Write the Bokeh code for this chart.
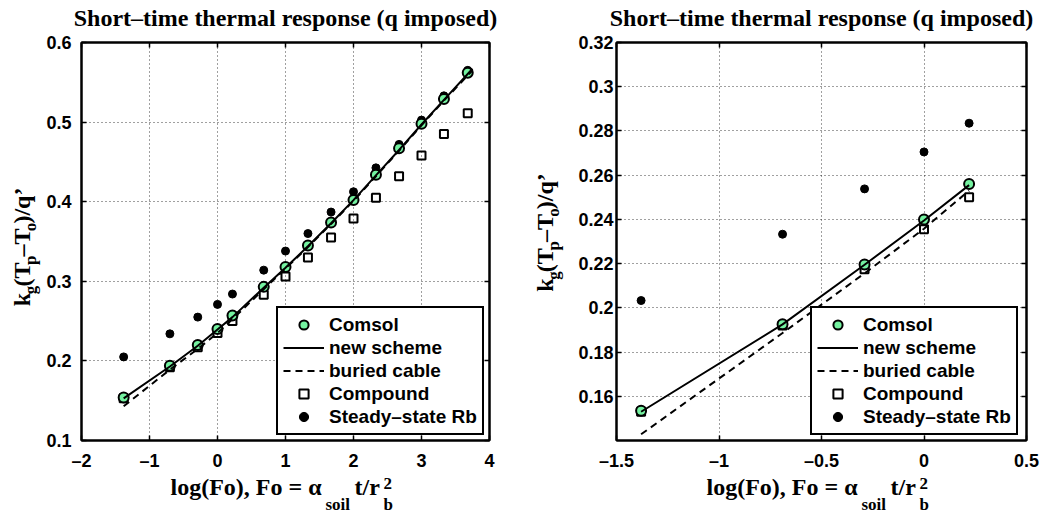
import math
from bokeh.plotting import figure
from bokeh.models import (FixedTicker, LinearAxis, Label, Legend, LegendItem, Range1d,
                          CustomLabelingPolicy)
from bokeh.layouts import row, column
from bokeh.embed import file_html
from bokeh.resources import INLINE

# ---------------- data ----------------
left_logfo = [-1.38, -0.70, -0.29, 0.0, 0.22, 0.68, 1.0, 1.33, 1.67, 2.0, 2.33, 2.67, 3.0, 3.33, 3.68]
left_comsol = [0.154, 0.194, 0.220, 0.240, 0.257, 0.293, 0.318, 0.345, 0.374, 0.402, 0.434, 0.467, 0.498, 0.529, 0.562]
left_compound = [0.153, 0.192, 0.217, 0.235, 0.250, 0.283, 0.306, 0.330, 0.355, 0.379, 0.405, 0.432, 0.458, 0.485, 0.511]
left_steady = [0.205, 0.234, 0.255, 0.271, 0.284, 0.314, 0.338, 0.360, 0.387, 0.4125, 0.4425, 0.472, 0.5025, 0.533, 0.565]
left_line_x = [-1.38, -0.70, -0.29, 0.0, 0.22, 0.68, 1.0, 1.33, 1.67, 2.0, 2.33, 2.67, 3.0, 3.33, 3.75]
left_new_scheme = [0.153, 0.193, 0.219, 0.2395, 0.255, 0.292, 0.317, 0.344, 0.373, 0.402, 0.433, 0.465, 0.497, 0.528, 0.567]
left_buried_cable = [0.143, 0.189, 0.215, 0.235, 0.2525, 0.290, 0.316, 0.343, 0.372, 0.401, 0.432, 0.464, 0.496, 0.527, 0.565]

right_logfo = [-1.38, -0.69, -0.29, 0.0, 0.22]
right_comsol = [0.1535, 0.1926, 0.2196, 0.2399, 0.256]
right_compound = [0.153, 0.192, 0.2175, 0.2355, 0.250]
right_steady = [0.2033, 0.2333, 0.2538, 0.2705, 0.2835]
right_new_scheme = [0.153, 0.1925, 0.2195, 0.2395, 0.2555]
right_buried_cable = [0.1428, 0.1886, 0.2156, 0.2358, 0.2530]

left_xticks = [-2, -1, 0, 1, 2, 3, 4]
left_xtick_labels = ["\u20132", "\u20131", "0", "1", "2", "3", "4"]
left_yticks = [0.1, 0.2, 0.3, 0.4, 0.5, 0.6]
left_ytick_labels = ["0.1", "0.2", "0.3", "0.4", "0.5", "0.6"]
right_xticks = [-1.5, -1.0, -0.5, 0.0, 0.5]
right_xtick_labels = ["\u20131.5", "\u20131", "\u20130.5", "0", "0.5"]
right_yticks = [0.16, 0.18, 0.2, 0.22, 0.24, 0.26, 0.28, 0.3, 0.32]
right_ytick_labels = ["0.16", "0.18", "0.2", "0.22", "0.24", "0.26", "0.28", "0.3", "0.32"]

legend_labels = ["Comsol", "new scheme", "buried cable", "Compound", "Steady\u2013state Rb"]
title_text = "Short\u2013time thermal response (q imposed)"

SERIF = "Liberation Serif"
SANS = "Liberation Sans"
GREEN = "#74f2a0"

# page geometry (page px, origin at top-left of the page)
TOP_H = 31          # title strip: y 0..31
MAIN_TOP = 11       # frame top at 42
FRAME_H = 400       # frame 42..442
MAIN_BOTTOM = 31    # tick-label strip 442..473
XL_TOP = TOP_H + MAIN_TOP + FRAME_H + MAIN_BOTTOM
XL_H = 514 - XL_TOP  # x-label strip 473..514
MAIN_H = MAIN_TOP + FRAME_H + MAIN_BOTTOM
MID = 0.3375        # Label anchors text at mid of font box: baseline offset in em
YLAB_SHIFT = 16     # measured drift of the rotated label along its reading direction

# Times-Bold advance widths (Liberation Serif Bold is metric compatible)
TW = {"k": 556, "g": 500, "(": 333, "T": 667, "p": 556, "\u2013": 500, "o": 500,
      ")": 333, "/": 278, "q": 556, "\u2019": 333}


def tw(s, size):
    return sum(TW[c] for c in s) * size / 1000.0


HIDE_ALL = CustomLabelingPolicy(code="for (const i of indices) { indices.unset(i) }\nreturn indices")


def text_fig(w, h):
    f = figure(width=w, height=h, x_range=Range1d(0, w), y_range=Range1d(h, 0),
               output_backend="svg", toolbar_location=None, min_border=0,
               x_axis_type=None, y_axis_type=None)
    f.outline_line_color = None
    f.background_fill_color = "white"
    f.border_fill_color = "white"
    return f


def put(f, x, y, text, size, align="left"):
    """horizontal text with its baseline at local (x, y)"""
    f.add_layout(Label(x=x, y=y - MID * size, text=text,
                       text_font=SERIF, text_font_style="bold", text_font_size=f"{size}px",
                       text_color="black", text_align=align, text_baseline="alphabetic"))


def put_up(f, x, y, text, size):
    """text rotated 90deg (reading upwards) with its baseline on local x"""
    f.add_layout(Label(x=x - MID * size, y=y, text=text, angle=math.pi / 2,
                       text_font=SERIF, text_font_style="bold", text_font_size=f"{size}px",
                       text_color="black", text_align="left", text_baseline="alphabetic"))


def main_fig(xr, yr, xticks, xlabels, yticks, ylabels, bl, br, frame_w, ystandoff):
    p = figure(width=bl + frame_w + br, height=MAIN_H, x_range=Range1d(*xr), y_range=Range1d(*yr),
               output_backend="svg", toolbar_location=None,
               min_border_left=bl, min_border_right=br,
               min_border_top=MAIN_TOP, min_border_bottom=MAIN_BOTTOM)
    p.background_fill_color = "white"
    p.border_fill_color = "white"
    p.outline_line_color = "black"
    p.outline_line_width = 2
    p.outline_line_alpha = 1.0
    for loc in ("above", "right"):
        ax = LinearAxis(major_label_text_font_size="1px", major_label_standoff=0,
                        major_label_policy=HIDE_ALL)
        p.add_layout(ax, loc)
    p.xaxis.ticker = FixedTicker(ticks=xticks)
    p.yaxis.ticker = FixedTicker(ticks=yticks)
    for ax in p.axis:
        ax.major_tick_in = 5
        ax.major_tick_out = 0
        ax.minor_tick_in = 0
        ax.minor_tick_out = 0
        ax.axis_line_width = 2
        ax.major_tick_line_width = 1.5
        ax.major_label_text_font = SANS
        ax.major_label_text_font_style = "bold"
        ax.major_label_text_color = "black"
    p.below[0].major_label_overrides = dict(zip(xticks, xlabels))
    p.below[0].major_label_text_font_size = "18px"
    p.below[0].major_label_standoff = 10
    p.left[0].major_label_overrides = dict(zip(yticks, ylabels))
    p.left[0].major_label_text_font_size = "18px"
    p.left[0].major_label_standoff = ystandoff
    p.grid.grid_line_color = "black"
    p.grid.grid_line_alpha = 0.75
    p.grid.grid_line_dash = "1 3"
    p.grid.grid_line_width = 1
    return p


def add_data(p, x, comsol, compound, steady, lx, new, bur, legend_loc):
    r_steady = p.scatter(x, steady, marker="circle", size=8, fill_color="black", line_color="black")
    r_comp = p.scatter(x, compound, marker="square", size=8, fill_color=None, line_color="black", line_width=2)
    r_comsol = p.scatter(x, comsol, marker="circle", size=10, fill_color=GREEN, line_color="black", line_width=2)
    r_new = p.line(lx, new, line_color="black", line_width=2)
    r_bur = p.line(lx, bur, line_color="black", line_width=2, line_dash="7 5")
    rends = [r_comsol, r_new, r_bur, r_comp, r_steady]
    legend = Legend(items=[LegendItem(label=l, renderers=[r]) for l, r in zip(legend_labels, rends)],
                    location=legend_loc, margin=0, padding=5, spacing=0,
                    glyph_width=41, glyph_height=23, label_height=23, label_standoff=5,
                    label_text_font=SANS, label_text_font_style="bold", label_text_font_size="19px",
                    label_text_color="black",
                    border_line_color="black", border_line_width=2, border_line_alpha=1.0,
                    background_fill_color="white", background_fill_alpha=1.0)
    p.add_layout(legend)


def panel(page_x, panel_w, yl_w, bl, frame_w, xr, yr, xt, xtl, yt, ytl, ystandoff,
          data, legend_loc, ylab_x, ylab_cy):
    br = panel_w - yl_w - bl - frame_w
    frame_left = page_x + yl_w + bl
    c = frame_left + frame_w / 2.0           # frame centre, page px
    cx = c - page_x
    # title strip
    t = text_fig(panel_w, TOP_H)
    put(t, cx, 25.5, title_text, 24, align="center")
    # y-label strip
    yl = text_fig(yl_w, MAIN_H)
    pieces = [("k", 24, 0), ("g", 17, 6), ("(T", 24, 0), ("p", 17, 6), ("\u2013T", 24, 0),
              ("o", 17, 6), (")/q\u2019", 24, 0)]
    total = sum(tw(s, sz) for s, sz, _ in pieces)
    y = (ylab_cy + YLAB_SHIFT - TOP_H) + total / 2.0
    for s, sz, off in pieces:
        put_up(yl, ylab_x - page_x + off, y, s, sz)
        y -= tw(s, sz)
    # main plot
    p = main_fig(xr, yr, xt, xtl, yt, ytl, bl, br, frame_w, ystandoff)
    add_data(p, *data, legend_loc)
    # x-label strip
    xl = text_fig(panel_w, XL_H)
    put(xl, cx - 115, 495 - XL_TOP, "log(Fo), Fo = \u03b1", 24)
    put(xl, cx + 40, 510 - XL_TOP, "soil", 17)
    put(xl, cx + 69, 495 - XL_TOP, "t/r", 24)
    put(xl, cx + 98, 489 - XL_TOP, "2", 17)
    put(xl, cx + 98, 510 - XL_TOP, "b", 17)
    return column(t, row(yl, p), xl)


left_panel = panel(0, 530, 42, 39, 408, (-2, 4), (0.1, 0.6),
                   left_xticks, left_xtick_labels, left_yticks, left_ytick_labels, 10,
                   (left_logfo, left_comsol, left_compound, left_steady, left_line_x,
                    left_new_scheme, left_buried_cable), (195, 5), 30, 244)
right_panel = panel(530, 511, 38, 48, 410, (-1.5, 0.5), (0.14, 0.32),
                    right_xticks, right_xtick_labels, right_yticks, right_ytick_labels, 3,
                    (right_logfo, right_comsol, right_compound, right_steady, right_logfo,
                     right_new_scheme, right_buried_cable), (194, 5), 553, 228)

layout = row(left_panel, right_panel)
open("out.html", "w").write(file_html(layout, INLINE))
